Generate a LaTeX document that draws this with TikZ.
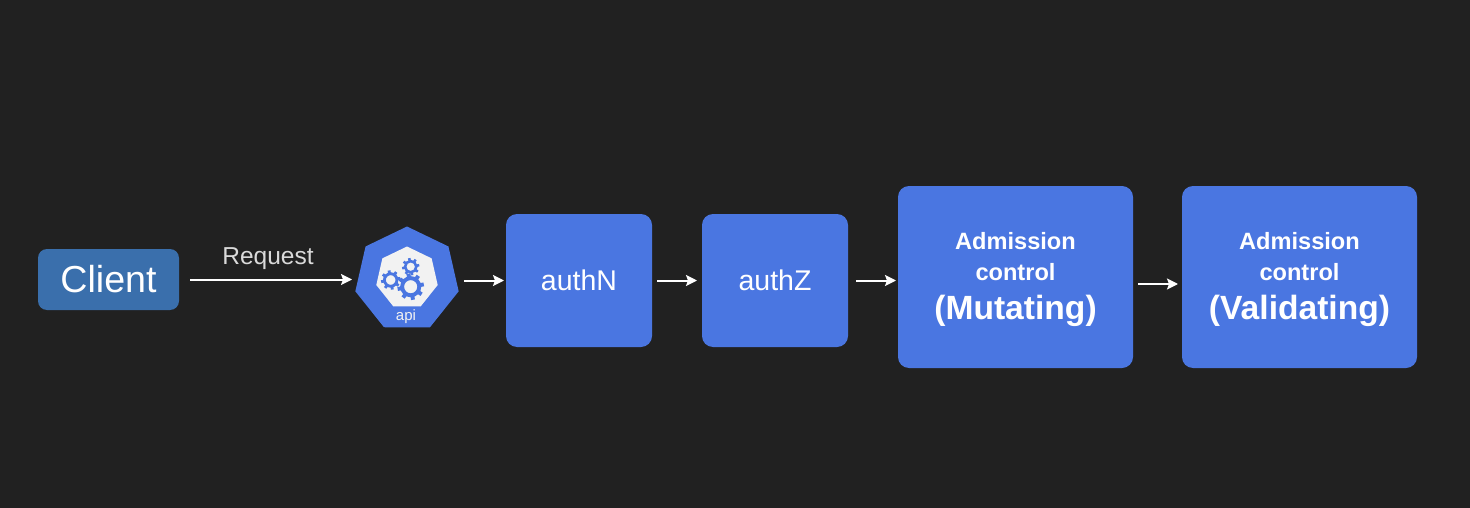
\documentclass[tikz,border=0pt]{standalone}
\usepackage{fontspec}
\setmainfont{Liberation Sans}
\usetikzlibrary{shapes.geometric, arrows.meta, positioning}

\definecolor{slide}{HTML}{212121}
\definecolor{boxblue}{HTML}{4A76E1}
\definecolor{clientblue}{HTML}{3A6FAC}
\definecolor{gearwhite}{HTML}{F2F2F2}

\tikzset{
  stage/.style={draw=none, fill=boxblue, rounded corners=11pt, text=white, align=center,
    inner sep=0pt, outer sep=0pt},
  small stage/.style={stage, minimum width=146pt, minimum height=133pt, font=\fontsize{28.5}{32}\selectfont},
  big stage/.style={stage, minimum width=235pt, minimum height=182pt, font=\bfseries\fontsize{23.6}{31}\selectfont},
  flow/.style={-{Stealth[length=11pt, width=11pt, inset=2pt]}, line width=2pt, white},
  gearwheel/.pic={
    \draw[boxblue, line width=.3*#1] (0,0) circle (.66*#1);
    \foreach \a in {0,45,...,315}
      \draw[boxblue, line width=.3*#1] (\a+10:.7*#1) -- (\a+10:1.02*#1);
  }
}
\newcommand{\admission}[1]{\rule{0pt}{22pt}Admission\\control\\[8pt]
  \fontsize{33.6}{36}\selectfont #1}

\begin{document}
\begin{tikzpicture}[x=1pt, y=1pt]
  \fill[slide] (0,0) rectangle (1470,-508);

  \node[draw=none, fill=clientblue, rounded corners=9pt, minimum width=141pt, minimum height=61pt,
    inner sep=0pt, outer sep=0pt, text=white, font=\fontsize{37.6}{40}\selectfont] (client) at (108.5,-279.5) {Client};
  \node[regular polygon, regular polygon sides=7, fill=boxblue, minimum size=106pt, inner sep=0pt,
    outer sep=0pt, right=176pt of client.east, anchor=center, xshift=52pt] (api) {};
  \node[regular polygon, regular polygon sides=7, fill=gearwhite, minimum size=63pt, inner sep=0pt,
    outer sep=0pt] (hub) at ([yshift=1.5pt]api.center) {};
  \pic at (410.7,-286.7) {gearwheel=13pt};
  \pic at (410.7,-266.7) {gearwheel=8.5pt};
  \pic at (390.7,-280) {gearwheel=9.5pt};
  \node[text=gearwhite, font=\fontsize{15}{16}\selectfont, inner sep=0pt] (apilabel) at (406,-316.5) {api};

  \node[small stage, anchor=center] (authn) at (579,-280.5) {authN};
  \node[small stage, right=50pt of authn] (authz) {authZ};
  \node[big stage, right=50pt of authz, yshift=3.5pt] (mutating) {\admission{(Mutating)}};
  \node[big stage, right=49pt of mutating] (validating) {\admission{(Validating)}};

  \node[text=gearwhite!90!black, font=\fontsize{24.5}{26}\selectfont, inner sep=0pt] (request) at (268,-258.5) {Request};

  \draw[flow, shorten <=11pt, shorten >=6pt] (client.east) -- (client.east -| api.west);
  \draw[flow, shorten <=8pt, shorten >=2pt] (api.east |- authn.west) -- (authn.west);
  \draw[flow, shorten <=5pt, shorten >=5pt] (authn.east) -- (authz.west);
  \draw[flow, shorten <=8pt, shorten >=2pt] (authz.east) -- (authz.east -| mutating.west);
  \draw[flow, shorten <=5pt, shorten >=4pt] ([yshift=-7pt]mutating.east) -- ([yshift=-7pt]validating.west);
\end{tikzpicture}
\end{document}
